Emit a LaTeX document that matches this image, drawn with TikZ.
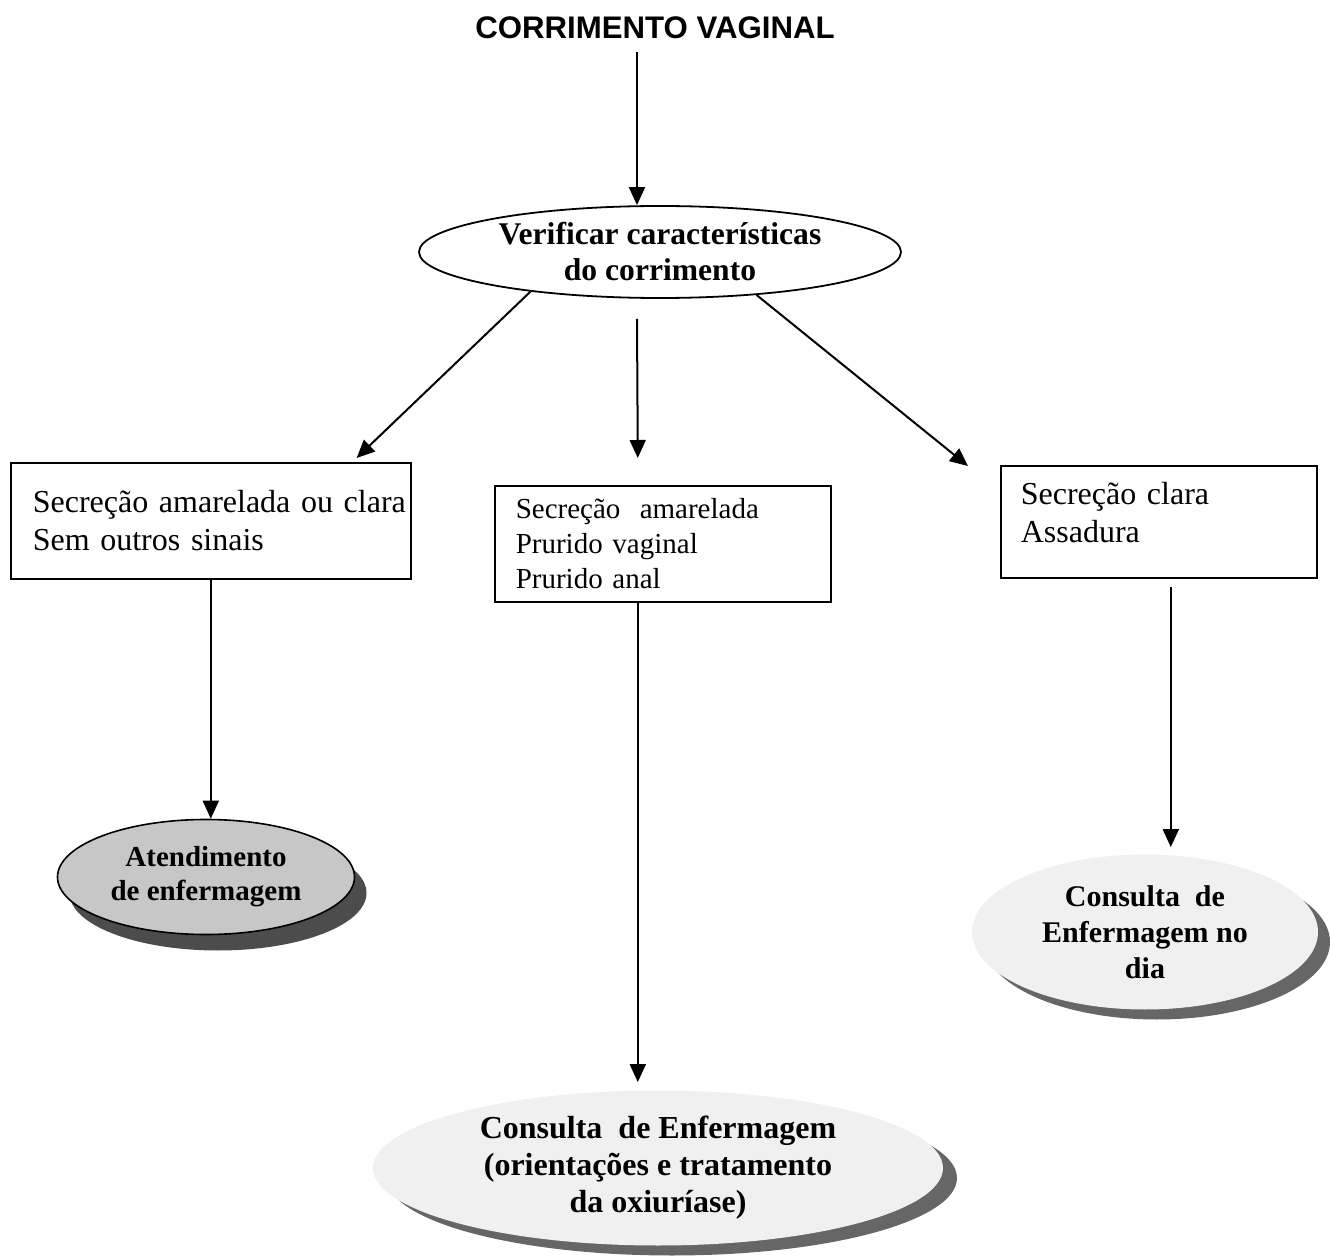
\documentclass[tikz,border=0pt]{standalone}
\usepackage{fontspec}
\setmainfont{Liberation Serif}
\newfontfamily\titlefont{Liberation Sans}
\usetikzlibrary{shapes.geometric,arrows.meta,calc,shadows}

\begin{document}
\begin{tikzpicture}[x=0.5pt,y=-0.5pt,
  arr/.style={line width=1pt,-{Triangle[length=9pt,width=8pt]}},
  box/.style={draw,line width=0.8pt,rectangle,align=left,anchor=north west,inner ysep=0pt},
  oval/.style={ellipse,inner sep=0pt,align=center},
]
\useasboundingbox (0,0) rectangle (1330,1257);

% title and first decision
\node[font=\titlefont\bfseries\fontsize{15.6}{18}\selectfont] (title) at (655,28) {CORRIMENTO VAGINAL};
\node[oval,draw,line width=0.9pt,minimum width=241pt,minimum height=46pt,
      font=\bfseries\fontsize{15.8}{18}\selectfont] (v) at (660,252)
      {Verificar características\\do corrimento};

% the three findings
\node[box,minimum width=200pt,minimum height=58pt,inner xsep=0pt,text width=200pt,
      font=\fontsize{16}{19}\selectfont] (box1) at (10,462)
      {\hspace*{11pt}Secreção amarelada ou clara\\\hspace*{11pt}Sem outros sinais};
\node[box,minimum width=168pt,minimum height=58pt,inner xsep=10.5pt,text width=147pt,
      font=\fontsize{14.5}{17.5}\selectfont] (box2) at (494,485)
      {Secreção\ \ amarelada\\Prurido vaginal\\Prurido anal};
\node[box,minimum width=158pt,minimum height=56pt,inner xsep=10pt,text width=138pt,
      font=\fontsize{16}{19}\selectfont] (box3) at (1000,465)
      {Secreção clara\\Assadura\\[-10pt]\mbox{}};

% outcomes
\node[oval,draw,line width=0.8pt,fill=black!22,minimum width=148.5pt,minimum height=57.5pt,
      font=\bfseries\fontsize{14.5}{17}\selectfont,
      drop shadow={shadow xshift=6pt,shadow yshift=-8pt,fill=black!70,opacity=1}] (atend) at (206,877)
      {Atendimento\\de enfermagem};
\node[oval,fill=black!6,minimum width=285pt,minimum height=77.5pt,
      font=\bfseries\fontsize{16}{18.5}\selectfont,
      drop shadow={shadow xshift=7pt,shadow yshift=-5pt,fill=black!60,opacity=1}] (cons1) at (658,1168)
      {Consulta\ \ de Enfermagem\\(orientações e tratamento\\da oxiuríase)};
\node[oval,fill=black!6,minimum width=173pt,minimum height=77.5pt,
      font=\bfseries\fontsize{15}{18}\selectfont,
      drop shadow={shadow xshift=6pt,shadow yshift=-5pt,fill=black!60,opacity=1}] (cons2) at (1145,932)
      {Consulta\ \ de\\Enfermagem no\\dia};

% connectors
\draw[arr] ([xshift=-9pt,yshift=-3pt]title.south) -- ([xshift=-11.5pt]v.north);
\draw[arr] (v.197) -- ($(box1.north east)+(-55,-4)$);
\draw[arr] ($(v.south)+(-23,20)$) -- ($(box2.north)+(-25,-27)$);
\draw[arr] (v.-24) -- ($(box3.north west)+(-32,1)$);

\draw[arr] (box1.south) -- (box1.south |- atend.north);

\coordinate (b2s) at ($(box2.south)+(-25,0)$);
\coordinate (c1top) at ($(cons1.north)+(0,-8)$);
\draw[arr] (b2s) -- (b2s |- c1top);

\coordinate (b3s) at ($(box3.south)+(12,8)$);
\coordinate (c2top) at ($(cons2.north)+(0,-7)$);
\draw[arr] (b3s) -- (b3s |- c2top);
\end{tikzpicture}
\end{document}
